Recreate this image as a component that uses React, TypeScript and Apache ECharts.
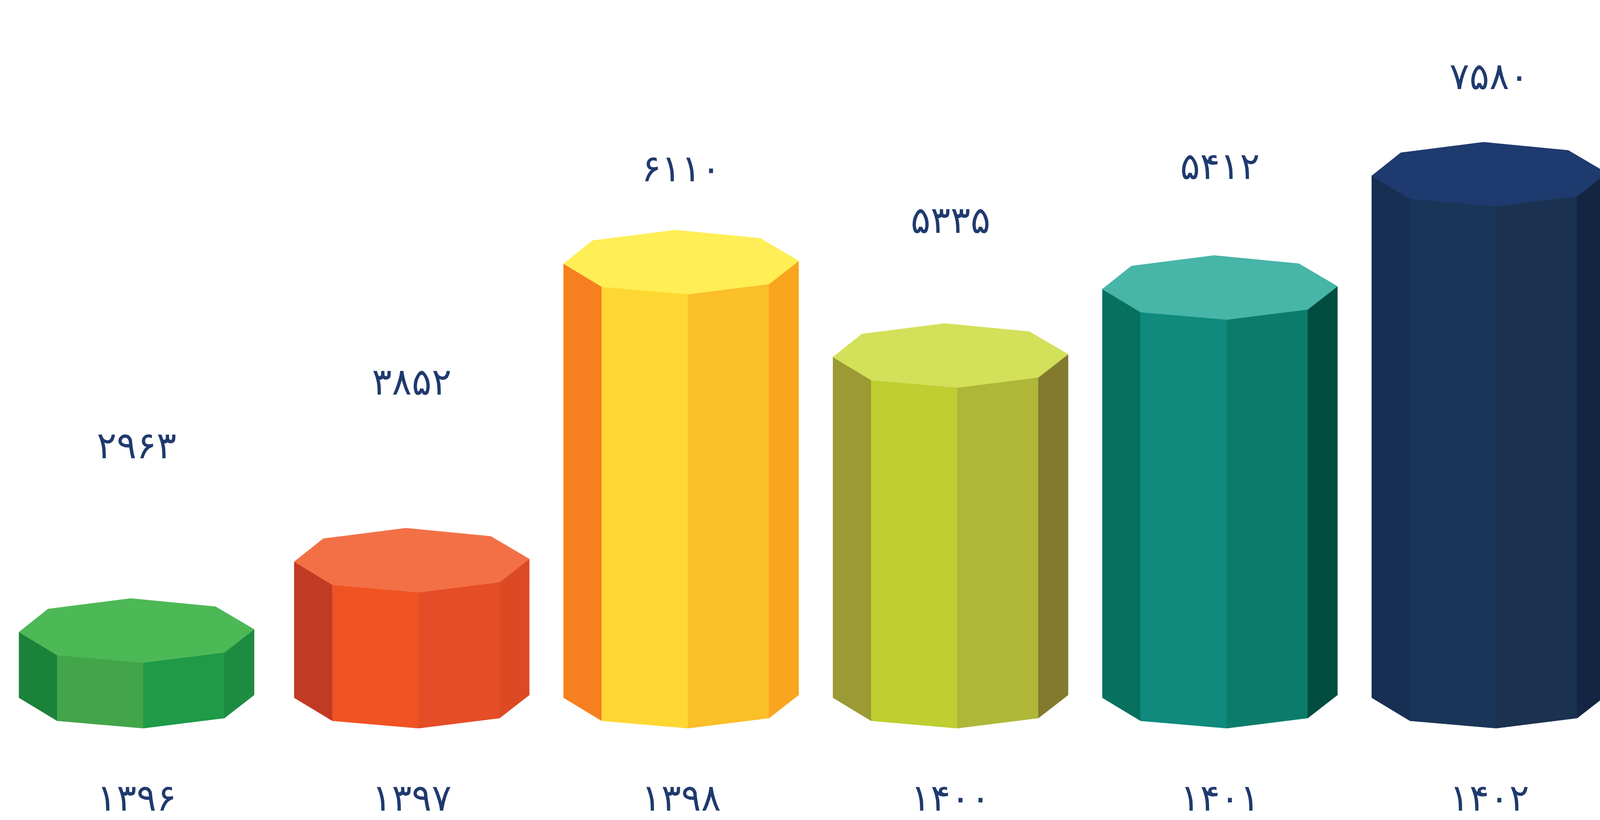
import React, { useEffect, useRef } from "react";
import * as echarts from "echarts";

const years = [1396, 1397, 1398, 1400, 1401, 1402];
const values = [2963, 3852, 6110, 5335, 5412, 7580];
// The pictured columns are not proportional to their labels: levels are read off the picture.
const columnLevels = [168, 348, 1111, 872, 1046, 1336];
const labelLevels = [724, 887, 1433, 1301, 1439, 1669];
const topColors = ["#4DB856", "#F37046", "#FFEE55", "#D3E05A", "#47B5A8", "#1F3A6E"];
const leftColors = ["#1B8239", "#C13A24", "#F6801F", "#9B9A35", "#07705F", "#162F52"];
const frontLeftColors = ["#42A549", "#F05323", "#FFD733", "#BFCE30", "#0F8A7D", "#193558"];
const frontRightColors = ["#1F9A49", "#E44D25", "#FBBF28", "#AFB738", "#0B7C6B", "#1A324F"];
const rightColors = ["#1E8C40", "#DC4A23", "#F9A61F", "#837A2F", "#004D40", "#132540"];

const INK = "#1F3A6E";
const FONT = "DejaVu Sans";
const LABEL_SIZE = 95;
const DESIGN_WIDTH = 4698;
const firstColumnShift = -17;

// Octagon outline, relative to the column's centre line and to its front corner.
const L = [-345, -78];
const BL = [-260, -137];
const B = [-17, -164];
const BR = [232, -143];
const R = [345, -85];
const FR = [258, -26];
const F = [20, 0];
const FL = [-233, -19];

const persian = (n: number) => String(n).replace(/\d/g, (d) => "۰۱۲۳۴۵۶۷۸۹"[Number(d)]);

export default function App() {
  const ref = useRef<HTMLDivElement>(null);
  useEffect(() => {
    document.body.style.margin = "0";
    // The browser may cap the window below the design width: the layout follows the real width.
    const width = Math.min(window.innerWidth, DESIGN_WIDTH);
    const sx = width / DESIGN_WIDTH;
    ref.current!.style.width = `${width}px`;

    const renderColumn = (params: any, api: any) => {
      const i = api.value(0);
      const cx = api.coord([i, 0])[0] + (i === 0 ? firstColumnShift * sx : 0);
      const base = api.coord([i, 0])[1];
      const top = api.coord([i, api.value(1)])[1];
      const labelY = api.coord([i, api.value(2)])[1];
      const pt = (o: number[], y: number) => [cx + o[0] * sx, y + o[1]];
      const face = (a: number[], b: number[], color: string) => ({
        type: "polygon",
        shape: { points: [pt(a, top), pt(b, top), pt(b, base), pt(a, base)] },
        style: { fill: color, stroke: color, lineWidth: 1 },
      });
      return {
        type: "group",
        children: [
          face(L, FL, leftColors[i]),
          face(FL, F, frontLeftColors[i]),
          face(F, FR, frontRightColors[i]),
          face(FR, R, rightColors[i]),
          {
            type: "polygon",
            shape: { points: [L, BL, B, BR, R, FR, F, FL].map((o) => pt(o, top)) },
            style: { fill: topColors[i], stroke: topColors[i], lineWidth: 1 },
          },
          {
            type: "text",
            x: cx,
            y: labelY,
            style: {
              text: persian(api.value(3)),
              fill: INK,
              font: `${LABEL_SIZE}px "${FONT}"`,
              textAlign: "center",
              textVerticalAlign: "middle",
            },
          },
        ],
      };
    };

    const chart = echarts.init(ref.current!, null, { renderer: "svg" });
    chart.setOption({
      animation: false,
      backgroundColor: "#ffffff",
      grid: {
        left: 22.5 * sx,
        top: 0,
        width: 4746 * sx,
        height: 1864,
        containLabel: false,
        outerBoundsMode: "none",
      },
      xAxis: {
        type: "category",
        data: years.map((y, i) => ({
          value: persian(y),
          textStyle: i === 0 ? { padding: [0, -2 * firstColumnShift * sx, 0, 0] } : {},
        })),
        axisLine: { show: false },
        axisTick: { show: false },
        axisLabel: {
          interval: 0,
          margin: 130,
          color: INK,
          fontFamily: FONT,
          fontSize: LABEL_SIZE,
        },
      },
      yAxis: { type: "value", min: 0, max: 1864, show: false },
      series: [
        {
          type: "custom",
          renderItem: renderColumn,
          clip: false,
          encode: { x: 0, y: 1 },
          data: years.map((_, i) => [i, columnLevels[i], labelLevels[i], values[i]]),
        },
      ],
    });
    return () => chart.dispose();
  }, []);
  return <div ref={ref} style={{ width: 4698, height: 2099, overflow: "hidden" }} />;
}
